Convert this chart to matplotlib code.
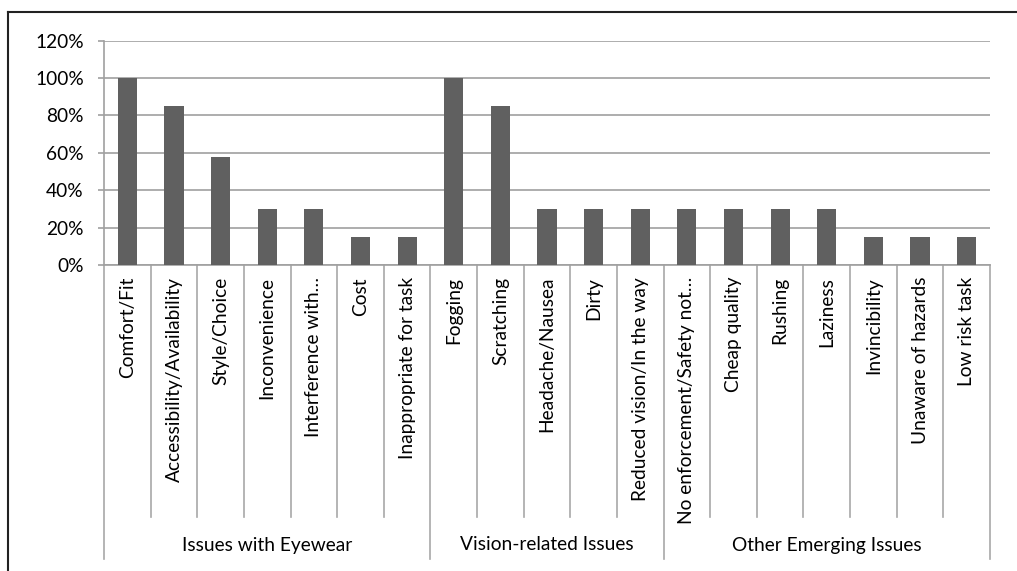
import matplotlib
matplotlib.use("Agg")
import matplotlib.pyplot as plt
import matplotlib.transforms as mtransforms
from matplotlib.lines import Line2D
from matplotlib.ticker import FuncFormatter

groups = ["Issues with Eyewear", "Vision-related Issues", "Other Emerging Issues"]
group_sizes = [7, 5, 7]
categories = [
    "Comfort/Fit", "Accessibility/Availability", "Style/Choice", "Inconvenience",
    "Interference with…", "Cost", "Inappropriate for task",
    "Fogging", "Scratching", "Headache/Nausea", "Dirty", "Reduced vision/In the way",
    "No enforcement/Safety not…", "Cheap quality", "Rushing", "Laziness",
    "Invincibility", "Unaware of hazards", "Low risk task",
]
values = [100, 85, 58, 30, 30, 15, 15,
          100, 85, 30, 30, 30,
          30, 30, 30, 30, 15, 15, 15]
yticks = [0, 20, 40, 60, 80, 100, 120]

plt.rcParams['font.family'] = ['Lato', 'DejaVu Sans']
FS = 13.8
TXT = '#000000'

W, H = 1017, 571
fig = plt.figure(figsize=(W / 100, H / 100), dpi=100)
x0, x1 = 104, 990
y_top, y_zero = 40.7, 265
ax = fig.add_axes([x0 / W, (H - y_zero) / H, (x1 - x0) / W, (y_zero - y_top) / H])
ax_h = y_zero - y_top

n = len(categories)
xs = list(range(n))
ax.bar(xs, values, width=0.41, color='#606060', zorder=3)
ax.set_xlim(-0.5, n - 0.5)
ax.set_ylim(0, 120)
ax.set_yticks(yticks)
ax.yaxis.set_major_formatter(FuncFormatter(lambda v, p: f"{int(v)}%"))
ax.grid(axis='y', color='#a0a0a0', lw=1.2, zorder=0)
ax.set_xticks([])
for s in ['top', 'right']:
    ax.spines[s].set_visible(False)
for s in ['left', 'bottom']:
    ax.spines[s].set_color('#a0a0a0')
    ax.spines[s].set_linewidth(1.2)
ax.tick_params(axis='y', length=4, color='#a0a0a0', width=1.2, labelsize=FS,
               labelcolor=TXT, pad=10.5)

trans = mtransforms.blended_transform_factory(ax.transData, ax.transAxes)
def yax(py):
    return (y_zero - py) / ax_h

sep_col = '#a8a8a8'
group_bounds = [0]
for g in group_sizes:
    group_bounds.append(group_bounds[-1] + g)
for i in range(n + 1):
    ybot = yax(559) if i in group_bounds else yax(517)
    ax.plot([i - 0.5, i - 0.5], [0, ybot], color=sep_col, lw=1.2,
            transform=trans, clip_on=False)

for i, c in enumerate(categories):
    ax.text(i, yax(277), c, rotation=90, ha='center', va='top', fontsize=FS,
            color=TXT, transform=trans)

for gi, g in enumerate(groups):
    cx = (group_bounds[gi] + group_bounds[gi + 1] - 1) / 2
    ax.text(cx, yax(545), g, ha='center', va='center', fontsize=FS,
            color=TXT, transform=trans)

fig.add_artist(Line2D([8 / W, 8 / W], [0, (H - 12) / H], color='#222222', lw=1.5,
                      transform=fig.transFigure))
fig.add_artist(Line2D([8 / W, 1], [(H - 12) / H, (H - 12) / H], color='#222222', lw=1.5,
                      transform=fig.transFigure))

fig.savefig("out.png", dpi=100)
